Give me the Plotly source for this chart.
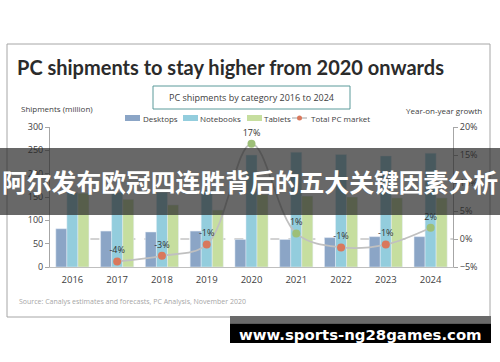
import plotly.graph_objects as go

years = ["2016", "2017", "2018", "2019", "2020", "2021", "2022", "2023", "2024"]
desktops = [82, 77, 75, 77, 59, 59, 63, 65, 65]
notebooks = [160, 160, 160, 165, 240, 246, 241, 238, 244]
tablets = [158, 145, 133, 122, 155, 152, 150, 148, 148]
growth_years = ["2017", "2018", "2019", "2020", "2021", "2022", "2023", "2024"]
growth = [-4, -3, -1, 17, 1, -1.5, -1, 2]
growth_labels = ["-4%", "-3%", "-1%", "17%", "1%", "-1%", "-1%", "2%"]

C_DESK = "#8ba5c6"
C_NOTE = "#93cddd"
C_TAB = "#c6de9f"
C_UP = "#9dbf78"
C_DOWN = "#d9785c"
C_LINE = "#c0c0c0"
TXT = "#404040"
FONT = "Open Sans"

W, H = 500, 362
L, R, T, B = 50, 47, 127, 95
PW, PH = W - L - R, H - T - B


def px(x):
    return (x - L) / PW


def py(y):
    return (H - B - y) / PH


fig = go.Figure()
fig.add_bar(x=years, y=desktops, name="Desktops", marker_color=C_DESK)
fig.add_bar(x=years, y=notebooks, name="Notebooks", marker_color=C_NOTE)
fig.add_bar(x=years, y=tablets, name="Tablets", marker_color=C_TAB)
fig.add_scatter(
    x=growth_years, y=growth, yaxis="y2", name="Total PC market",
    mode="lines+markers+text", line=dict(color=C_LINE, width=1.8, shape="spline", smoothing=1.0),
    marker=dict(size=8, color=[C_UP if g > 0 else C_DOWN for g in growth]),
    text=growth_labels, textposition="top center",
    textfont=dict(family=FONT, size=9, color="#333333"),
)

shapes = []
# frame
shapes.append(dict(type="rect", xref="paper", yref="paper", x0=px(7), x1=px(490), y0=py(44), y1=py(317),
                   line=dict(color="#a6a6a6", width=1), fillcolor="rgba(0,0,0,0)", layer="below"))
# subtitle box
shapes.append(dict(type="rect", xref="paper", yref="paper", x0=px(153), x1=px(350), y0=py(86), y1=py(109),
                   line=dict(color="#5a9a9a", width=1), fillcolor="white", layer="below"))
# dashed zero line
shapes.append(dict(type="line", xref="x", yref="y2", x0=0, x1=8.5, y0=0, y1=0,
                   line=dict(color="#a6a6a6", width=1, dash="dash"), layer="below"))
# legend swatches
for x0, c in [(125, C_DESK), (183, C_NOTE), (247, C_TAB)]:
    shapes.append(dict(type="rect", xref="paper", yref="paper", x0=px(x0), x1=px(x0 + 15), y0=py(115), y1=py(121),
                       line=dict(width=0), fillcolor=c))
shapes.append(dict(type="line", xref="paper", yref="paper", x0=px(292), x1=px(307), y0=py(118), y1=py(118),
                   line=dict(color=C_LINE, width=1.5)))
shapes.append(dict(type="circle", xref="paper", yref="paper", x0=px(297), x1=px(302), y0=py(115.5), y1=py(120.5),
                   line=dict(width=0), fillcolor=C_DOWN))
# overlay band
shapes.append(dict(type="rect", xref="paper", yref="paper", x0=px(0), x1=px(500), y0=py(148), y1=py(215),
                   line=dict(width=0), fillcolor="rgba(40,40,40,0.7)", layer="above"))
# watermark box
shapes.append(dict(type="rect", xref="paper", yref="paper", x0=px(230), x1=px(491), y0=py(316), y1=py(323.5),
                   line=dict(width=0), fillcolor="#6a6a6a", layer="above"))
shapes.append(dict(type="rect", xref="paper", yref="paper", x0=px(230), x1=px(491), y0=py(323.5), y1=py(343),
                   line=dict(width=0), fillcolor="#000000", layer="above"))

ann = []


def note(x, y, text, size=9, color=TXT, xanchor="left", family=FONT, bold=False):
    ann.append(dict(xref="paper", yref="paper", x=px(x), y=py(y), text=("<b>%s</b>" % text) if bold else text,
                    showarrow=False, xanchor=xanchor, yanchor="middle",
                    font=dict(family=family, size=size, color=color)))


note(15, 67, "PC shipments to stay higher from 2020 onwards", size=20, color="#2b2b2b", family="Lato", bold=True)
note(251.5, 97.5, "PC shipments by category 2016 to 2024", size=9, xanchor="center")
note(140.5, 118, "Desktops", size=8)
note(197.5, 118, "Notebooks", size=8)
note(261.5, 118, "Tablets", size=8)
note(309, 118, "Total PC market", size=8)
note(19, 108, "Shipments (million)", size=8)
note(404, 110, "Year-on-year growth", size=8)
note(17, 301, "Source: Canalys estimates and forecasts, PC Analysis, November 2020", size=7, color="#a6a6a6")
note(249.5, 181, "阿尔发布欧冠四连胜背后的五大关键因素分析", size=24.8, color="white", xanchor="center",
     family="Noto Sans CJK SC", bold=True)
note(360, 334.5, "www.sports-ng28games.com", size=14.9, color="white", xanchor="center", family="DejaVu Sans",
     bold=True)

fig.update_layout(
    width=W, height=H, margin=dict(l=L, r=R, t=T, b=B, autoexpand=False),
    paper_bgcolor="white", plot_bgcolor="white",
    barmode="group", bargap=0.26, bargroupgap=0,
    showlegend=False, shapes=shapes, annotations=ann,
    font=dict(family=FONT, color=TXT),
    xaxis=dict(type="category", range=[-0.5, 8.5], showline=True, linecolor="#bfbfbf", linewidth=1,
               ticks="", showgrid=False, tickfont=dict(size=9.5, color=TXT), ticklabelstandoff=4,
               automargin=False),
    yaxis=dict(range=[0, 300], dtick=50, showline=True, linecolor="#a6a6a6", ticks="outside", ticklen=4,
               tickcolor="#a6a6a6", showgrid=False, zeroline=False, tickfont=dict(size=9, color=TXT),
               automargin=False),
    yaxis2=dict(range=[-5, 20], dtick=5, overlaying="y", side="right", showline=True, linecolor="#a6a6a6",
                ticks="outside", ticklen=4, tickcolor="#a6a6a6", showgrid=False, zeroline=False,
                ticksuffix="%", tickfont=dict(size=9, color=TXT), automargin=False),
)

fig.write_html("out.html", config={"displayModeBar": False},
               post_script="document.body.style.margin='0';")
